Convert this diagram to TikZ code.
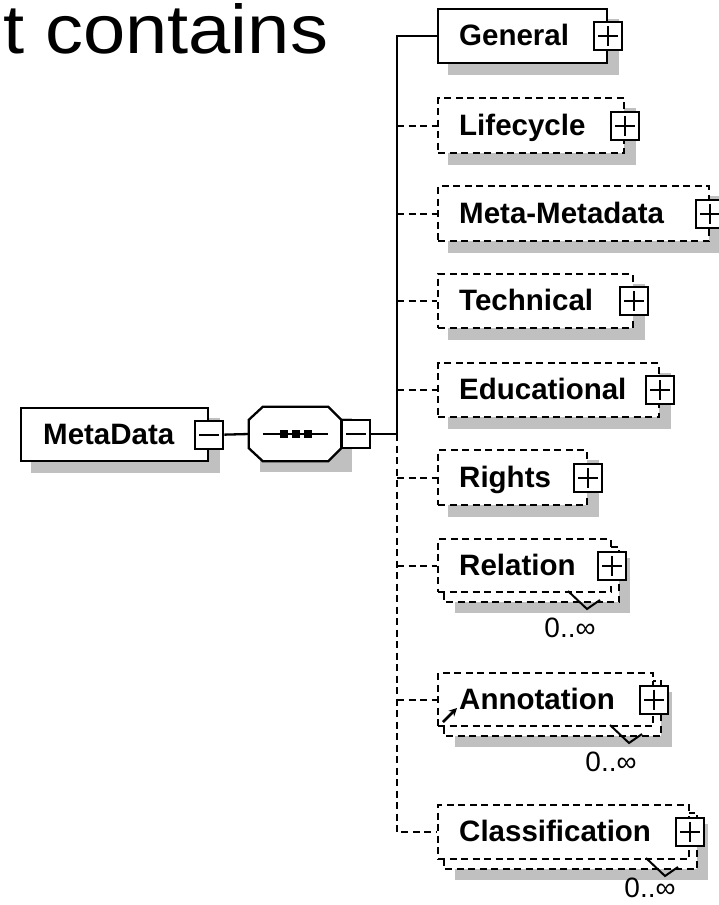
\documentclass[tikz,border=0pt]{standalone}
\usepackage{fontspec}
\setmainfont{Liberation Sans}
\usetikzlibrary{calc,arrows.meta}
\pgfdeclarelayer{bg}
\pgfsetlayers{bg,main}
\definecolor{shadowgray}{HTML}{C0C0C0}
\tikzset{
  x=1pt, y=-1pt,
  elembox/.style={draw, fill=white, line width=2.3pt, inner sep=0pt, anchor=north west},
  optelem/.style={elembox, dash pattern=on 7pt off 4.5pt},
  backbox/.style={draw, fill=white, line width=2.3pt, dash pattern=on 7pt off 4.5pt},
  shadowfill/.style={fill=shadowgray},
  plusb/.style={draw, fill=white, line width=2.1pt, minimum width=28pt, minimum height=28pt, inner sep=0pt,
    path picture={
      \draw[line width=2pt] ($(path picture bounding box.west)+(4pt,0pt)$) -- ($(path picture bounding box.east)+(-4pt,0pt)$);
      \draw[line width=2pt] ($(path picture bounding box.north)+(0pt,-4pt)$) -- ($(path picture bounding box.south)+(0pt,4pt)$);
    }},
  minusb/.style={draw, fill=white, line width=2.1pt, minimum width=28pt, minimum height=28pt, inner sep=0pt,
    path picture={
      \draw[line width=2pt] ($(path picture bounding box.west)+(4pt,0pt)$) -- ($(path picture bounding box.east)+(-4pt,0pt)$);
    }},
  lbl/.style={font=\bfseries\fontsize{29.5}{32}\selectfont, anchor=base west, inner sep=0pt},
  occ/.style={font=\fontsize{28}{30}\selectfont, inner sep=0pt},
  solidc/.style={line width=2.3pt},
  dashc/.style={line width=2.3pt, dash pattern=on 7pt off 4.5pt},
  notch/.style={line width=2pt},
}
\begin{document}
\begin{tikzpicture}
\useasboundingbox (0,0) rectangle (719,905);

% heading text
\node[anchor=base west, inner sep=0pt, font=\fontsize{69}{74}\selectfont, xscale=1.1] (head) at (3,53) {t contains};

% MetaData root
\node[elembox, minimum width=187pt, minimum height=53pt] (md) at (20,407) {};
\node[lbl] (mdl) at (43,444.5) {MetaData};
\node[minusb] (mdm) at (md.east) {};

% sequence compositor
\node[minimum width=92pt, minimum height=54pt, inner sep=0pt] (seq) at (295,434) {};
\draw[line width=2.3pt, fill=white] ($(seq.north west)+(14,0)$) -- ($(seq.north east)+(-13,0)$) -- ($(seq.north east)+(0,13)$)
  -- ($(seq.south east)+(0,-13)$) -- ($(seq.south east)+(-13,0)$) -- ($(seq.south west)+(14,0)$)
  -- ($(seq.south west)+(0,-13)$) -- ($(seq.north west)+(0,13)$) -- cycle;
\draw[line width=2pt] ($(seq.west)+(14,0)$) -- ($(seq.east)+(-13,0)$);
\foreach \cx in {284,296,308} \fill (\cx-4,430) rectangle (\cx+4,438);
\node[minusb, anchor=west] (seqm) at (seq.east) {};

% children
\node[elembox, minimum width=169pt, minimum height=54pt] (gen) at (437,8) {};
\node[optelem, minimum width=186pt, minimum height=55pt] (life) at (437,97) {};
\node[optelem, minimum width=271pt, minimum height=55pt] (meta) at (437,185) {};
\node[optelem, minimum width=195pt, minimum height=54pt] (tech) at (437,273) {};
\node[optelem, minimum width=221pt, minimum height=54pt] (edu) at (437,362) {};
\node[optelem, minimum width=149pt, minimum height=55pt] (rights) at (437,449) {};
\node[optelem, minimum width=173pt, minimum height=53pt] (rel) at (437,538) {};
\node[optelem, minimum width=215pt, minimum height=53pt] (ann) at (437,672) {};
\node[optelem, minimum width=251pt, minimum height=54pt] (cls) at (437,804) {};

% labels
\node[lbl] (genl) at (459,45.5) {General};
\node[lbl] (lifel) at (459,135) {Lifecycle};
\node[lbl] (metal) at (459,223) {Meta-Metadata};
\node[lbl] (techl) at (459,310.5) {Technical};
\node[lbl] (edul) at (459,399.5) {Educational};
\node[lbl] (rightsl) at (459,487) {Rights};
\node[lbl] (rell) at (459,575) {Relation};
\node[lbl] (annl) at (459,709) {Annotation};
\node[lbl] (clsl) at (459,841.5) {Classification};

% expand boxes
\foreach \n in {gen,life,meta,tech,edu,rights,rel,ann,cls} \node[plusb] (\n p) at (\n.east) {};

% shadows and stacked back boxes
\begin{pgfonlayer}{bg}
  \foreach \n in {md,gen,life,meta,tech,edu,rights}
    \fill[shadowfill] ($(\n.north west)+(11,11)$) rectangle ($(\n.south east)+(11,11)$);
  \fill[shadowfill] ($(seq.north west)+(11,11)$) rectangle ($(seq.south east)+(11,11)$);
  \foreach \n in {rel,ann,cls} {
    \fill[shadowfill] ($(\n.north west)+(18,20)$) rectangle ($(\n.south east)+(18,20)$);
    \draw[backbox] ($(\n.north west)+(7,9)$) rectangle ($(\n.south east)+(7,9)$);
  }
\end{pgfonlayer}

% multiplicity notches
\draw[notch] (568,591) -- (587,609) -- (600,600);
\draw[notch] (610,725) -- (629,743) -- (642,734);
\draw[notch] (646,858) -- (665,876) -- (678,867);
\node[occ] (relo) at (570,628) {0..∞};
\node[occ] (anno) at (611,762) {0..∞};
\node[occ] (clso) at (650,888) {0..∞};

% reference arrow in Annotation
\draw[line width=2.5pt, -{Stealth[length=8pt,width=8pt]}] (443,722) -- (457,708);

% connectors
\coordinate (junc) at (397,434);
\draw[solidc] (mdm.east) -- (seq.west);
\draw[solidc] (seqm.east) -- (junc);
\draw[solidc] (junc) |- (gen.west);
\draw[dashc] (junc) |- (cls.west);
\foreach \n in {life,meta,tech,edu,rights,rel,ann}
  \draw[dashc] (junc |- \n.west) -- (\n.west);
\end{tikzpicture}
\end{document}
